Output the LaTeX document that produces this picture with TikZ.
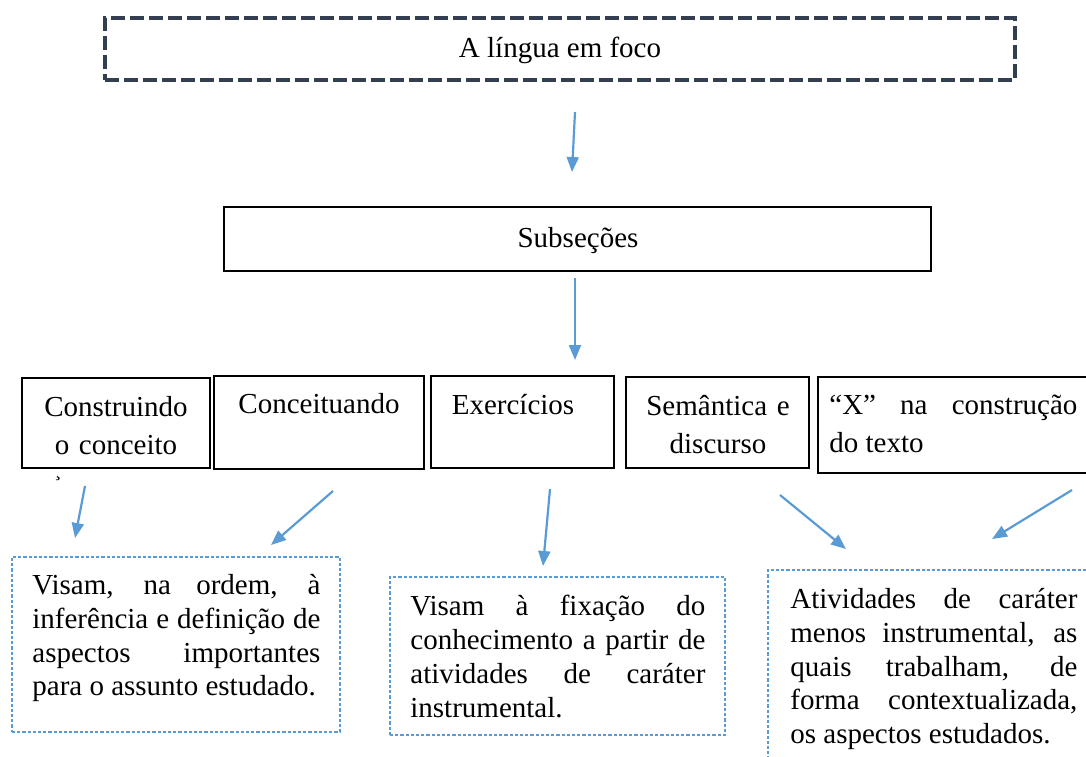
\documentclass[tikz,border=0pt]{standalone}
\usepackage{fontspec}
\setmainfont{Liberation Serif}
\usetikzlibrary{arrows.meta}

\definecolor{arrowBlue}{HTML}{5B9BD5}
\definecolor{slateDark}{HTML}{333F50}

\tikzset{
    mainBox/.style={draw=slateDark, line width=2pt, dash pattern=on 7pt off 2.5pt, inner sep=0pt},
    plainBox/.style={draw=black, line width=0.7pt, inner sep=0pt},
    noteBox/.style={draw=arrowBlue, line width=0.6pt, dash pattern=on 1.6pt off 1pt, inner sep=0pt},
    upperText/.style={inner sep=0pt, font=\fontsize{14.5}{19}\selectfont},
    noteText/.style={anchor=north west, inner sep=0pt, text width=#1, align=justify, font=\fontsize{14.5}{16.9}\selectfont},
    blueArrow/.style={draw=arrowBlue, line width=1.1pt, -{Triangle[length=7.5pt,width=6pt]}}
}

\begin{document}
\begin{tikzpicture}[x=0.5pt, y=-0.5pt]
        \useasboundingbox (0,0) rectangle (1086,756);

        % --- Draw top boxes ---
        \node[mainBox, minimum width=455pt, minimum height=31pt] (topBox) at (560,49) {};
        \node[upperText, anchor=base] (topText) at (560,57) {A língua em foco};
        \node[plainBox, minimum width=353.5pt, minimum height=32pt] (subBox) at (577.5,239) {};
        \node[upperText, anchor=base] (subText) at (578,247) {Subseções};
        % ---

        % --- Draw row of subsections ---
        \node[plainBox, minimum width=94pt, minimum height=45pt] (consBox) at (116,423) {};
        \node[upperText, anchor=north, text width=94pt, align=center] (consText) at (116,396) {Construindo\\o conceito};
        \node[font=\fontsize{10}{10}\selectfont, inner sep=0pt, text height=0pt, text depth=2pt, anchor=base] (consMark) at (58,476) {¸};
        \node[plainBox, minimum width=105pt, minimum height=46.5pt] (concBox) at (319,422.5) {};
        \node[upperText, anchor=base] (concText) at (319,413) {Conceituando};
        \node[plainBox, minimum width=91.5pt, minimum height=46pt] (exerBox) at (522.5,422) {};
        \node[upperText, anchor=base] (exerText) at (513,414) {Exercícios};
        \node[plainBox, minimum width=91.5pt, minimum height=45.5pt] (semBox) at (717.5,422.5) {};
        \node[upperText, anchor=north, text width=91.5pt, align=center] (semText) at (718,395) {Semântica e\\discurso};
        \node[plainBox, minimum width=136pt, minimum height=48pt] (xBox) at (954,425) {};
        \node[upperText, anchor=north west, text width=124pt, align=justify] (xText) at (829,395) {“X” na construção\linebreak do texto};
        % ---

        % --- Draw notes below ---
        \node[noteBox, minimum width=164pt, minimum height=87.5pt] (visamBox) at (176,644.5) {};
        \node[noteText=144pt] (visamText) at (32,574) {Visam, na ordem, à\linebreak inferência e definição de\linebreak aspectos importantes\linebreak para o assunto estudado.};
        \node[noteBox, minimum width=167.5pt, minimum height=79pt] (fixBox) at (557.5,656) {};
        \node[noteText=147.5pt] (fixText) at (410,595) {Visam à fixação do\linebreak conhecimento a partir de\linebreak atividades de caráter\linebreak instrumental.};
        \node[noteBox, minimum width=162pt, minimum height=95pt] (ativBox) at (930,665) {};
        \node[noteText=143.5pt] (ativText) at (790,588) {Atividades de caráter\linebreak menos instrumental, as\linebreak quais trabalham, de\linebreak forma contextualizada,\linebreak os aspectos estudados.};
        % ---

        % --- Draw arrows ---
        \coordinate (topFrom) at (575,112);   \coordinate (topTo) at (572,172);
        \coordinate (subFrom) at (575,278);   \coordinate (subTo) at (575,360);
        \coordinate (consFrom) at (85,486);   \coordinate (consTo) at (75,538);
        \coordinate (concFrom) at (333,491);  \coordinate (concTo) at (271,545);
        \coordinate (exerFrom) at (550,489);  \coordinate (exerTo) at (543,566);
        \coordinate (semFrom) at (780,495);   \coordinate (semTo) at (846,549);
        \coordinate (xFrom) at (1072,490);    \coordinate (xTo) at (992,539);
        \draw[blueArrow] (topFrom) -- (topTo);
        \draw[blueArrow] (subFrom) -- (subTo);
        \draw[blueArrow] (consFrom) -- (consTo);
        \draw[blueArrow] (concFrom) -- (concTo);
        \draw[blueArrow] (exerFrom) -- (exerTo);
        \draw[blueArrow] (semFrom) -- (semTo);
        \draw[blueArrow] (xFrom) -- (xTo);
        % ---
\end{tikzpicture}
\end{document}
